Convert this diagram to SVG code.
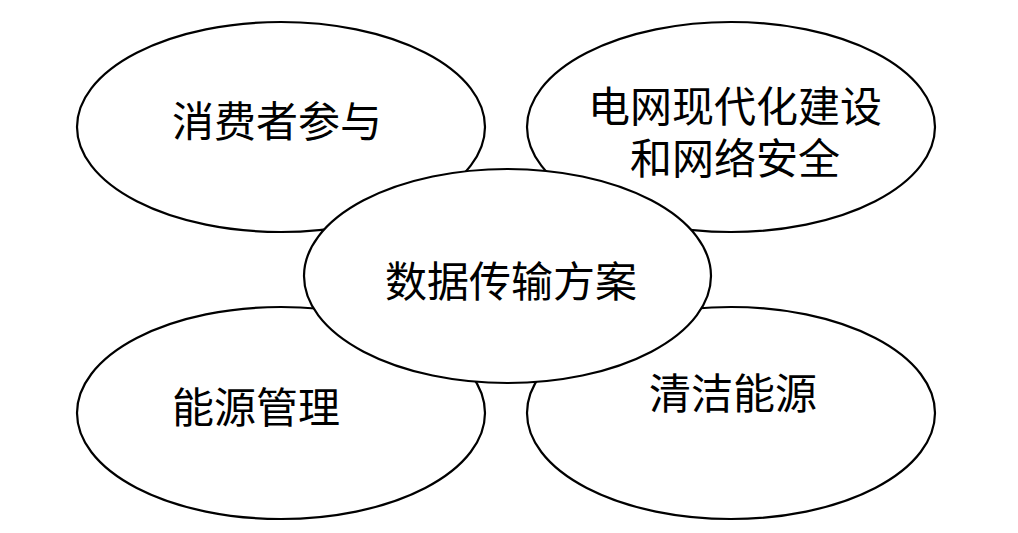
<svg xmlns="http://www.w3.org/2000/svg" width="1018" height="533" viewBox="0 0 1018 533">
<style>
.e{fill:#fff;stroke:#000;stroke-width:2.2}
.t{font-family:"Liberation Sans","Noto Sans CJK SC","Noto Sans CJK TC",sans-serif;font-size:42px;fill:#000;text-anchor:middle}
</style>
<rect width="1018" height="533" fill="#fff"/>
<g id="consumer"><ellipse class="e" cx="281" cy="127" rx="204" ry="105"/><text class="t" x="277" y="137">消费者参与</text></g>
<g id="grid"><ellipse class="e" cx="731" cy="127" rx="204" ry="105"/><text class="t"><tspan x="735" y="122">电网现代化建设</tspan><tspan x="735" y="174">和网络安全</tspan></text></g>
<g id="energy-mgmt"><ellipse class="e" cx="281" cy="413" rx="204" ry="106"/><text class="t" x="256" y="423">能源管理</text></g>
<g id="clean-energy"><ellipse class="e" cx="731" cy="413" rx="204" ry="106"/><text class="t" x="733" y="409">清洁能源</text></g>
<g id="center"><ellipse class="e" cx="507.5" cy="276" rx="203.5" ry="107"/><text class="t" x="511" y="297">数据传输方案</text></g>
<g id="connectors"></g>
</svg>
